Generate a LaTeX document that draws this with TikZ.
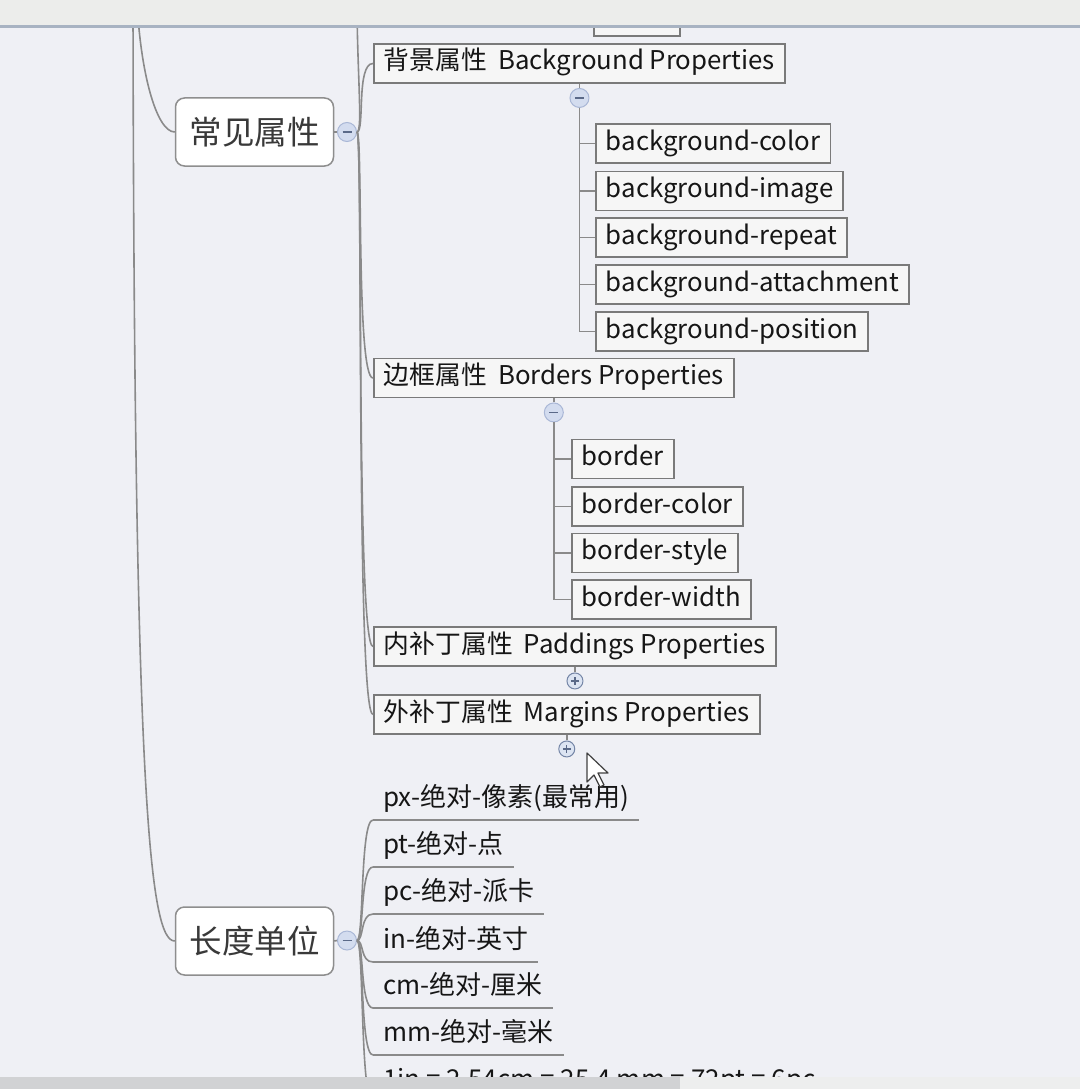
\documentclass[tikz,border=0pt]{standalone}
\usepackage{fontspec}
\setmainfont{Noto Sans CJK SC}
\newfontfamily\zhf{Noto Sans CJK SC}[Scale=1.0]
\usetikzlibrary{calc}
\definecolor{bgc}{HTML}{EFF0F5}
\definecolor{topc}{HTML}{ECEDEB}
\definecolor{toplinec}{HTML}{A8B3C2}
\definecolor{botl}{HTML}{D1D2D4}
\definecolor{botr}{HTML}{EDEEEE}
\definecolor{boxfill}{HTML}{F6F6F6}
\definecolor{boxdraw}{HTML}{7A7A7A}
\definecolor{rootdraw}{HTML}{8E8E8E}
\definecolor{linec}{HTML}{8A8A8A}
\definecolor{txt}{HTML}{161616}
\definecolor{cminfill}{HTML}{D3DCEF}
\definecolor{cmindraw}{HTML}{A9B7D6}
\definecolor{cplusfill}{HTML}{DCE4F2}
\definecolor{cplusdraw}{HTML}{7485A6}
\definecolor{signc}{HTML}{5A6988}
\begin{document}
\begin{tikzpicture}[x=1pt,y=-1pt,
  conn/.style={draw=linec,line width=1.6pt},
  rootbox/.style={draw=rootdraw,fill=white,line width=1.5pt,rounded corners=9pt,
    minimum width=158pt,minimum height=68pt,inner sep=0pt,text=txt!85,
    font=\fontsize{32.5}{36}\selectfont},
  topic/.style={draw=boxdraw,fill=boxfill,line width=1.9pt,anchor=west,
    inner xsep=10pt,inner ysep=0pt,minimum height=39pt,text height=19pt,text depth=6pt,
    text=txt,font=\fontsize{25.8}{30}\selectfont},
  unit/.style={anchor=south west,inner xsep=10pt,inner ysep=0pt,text height=19pt,
    text depth=13pt,text=txt,font=\fontsize{26}{30}\selectfont},
  cminus/.style={circle,minimum size=19pt,inner sep=0pt,fill=cminfill,draw=cmindraw,line width=1pt,
    path picture={\draw[signc,line width=1.2pt] ([xshift=-4.5pt]path picture bounding box.center) -- ([xshift=4.5pt]path picture bounding box.center);}},
  cplus/.style={circle,minimum size=16pt,inner sep=0pt,fill=cplusfill,draw=cplusdraw,line width=1pt,
    path picture={\draw[signc,line width=1.3pt] ([xshift=-4pt]path picture bounding box.center) -- ([xshift=4pt]path picture bounding box.center)
      ([yshift=-4pt]path picture bounding box.center) -- ([yshift=4pt]path picture bounding box.center);}}
]
\useasboundingbox (0,0) rectangle (1080,1089);
\clip (0,0) rectangle (1080,1089);
\fill[bgc] (0,0) rectangle (1080,1089);

% partial box at the top (cut by the bar)
\draw[draw=boxdraw,fill=boxfill,line width=1.9pt] (594,-5) rectangle (680,36);

% root-level nodes
\node[rootbox] (cj) at (254.5,132) {常见属性};
\node[rootbox] (cd) at (254.5,941) {长度单位};
\node[cminus] (cjc) at (347,132) {};
\node[cminus] (cdc) at (347,940.5) {};
\draw[conn] (cj.east) -- (cjc.west);
\draw[conn] (cd.east) -- (cdc.west);

% lines from the off-screen root
\coordinate (rtA) at (133,0);
\coordinate (rtB) at (137,0);
\draw[conn] (rtA) .. controls (134,800) and (150,941) .. (cd.west);
\draw[conn] (rtB) .. controls (140,70) and (156,132) .. (cj.west);

% children of 常见属性
\node[topic] (bgP) at (373,63.5) {{\zhf 背景属性}\hspace{11pt}Background Properties};
\node[topic] (brd) at (373,378) {{\zhf 边框属性}\hspace{11pt}Borders Properties};
\node[topic] (pad) at (373,646.5) {{\zhf 内补丁属性}\hspace{11pt}Paddings Properties};
\node[topic] (mar) at (373,714.5) {{\zhf 外补丁属性}\hspace{11pt}Margins Properties};

\coordinate (cjtop) at (357,0);
\draw[conn] (cjc.east) .. controls +(6,0) and (357,70) .. (cjtop);
\draw[conn] (cjc.east) .. controls +(8,0) and +(-17,0) .. (bgP.west);
\draw[conn] (cjc.east) .. controls +(6,0) and +(-17,0) .. (brd.west);
\draw[conn] (cjc.east) .. controls +(6,0) and +(-17,0) .. (pad.west);
\draw[conn] (cjc.east) .. controls +(6,0) and +(-17,0) .. (mar.west);

% background properties
\node[cminus] (bgc1) at ($(bgP.south)+(0,14)$) {};
\draw[conn] (bgP.south) -- (bgc1.north);
\node[topic] (bc) at (595,143.5) {background-color};
\node[topic] (bi) at (595,191) {background-image};
\node[topic] (br) at (595,237.5) {background-repeat};
\node[topic] (ba) at (595,284.5) {background-attachment};
\node[topic] (bp) at (595,331.5) {background-position};
\foreach \n in {bc,bi,br,ba,bp} \draw[conn] (bgc1.south) |- (\n.west);

% borders properties
\node[cminus] (brc1) at ($(brd.south)+(0,14)$) {};
\draw[conn] (brd.south) -- (brc1.north);
\node[topic] (b1) at (571,459) {border};
\node[topic] (b2) at (571,506.5) {border-color};
\node[topic] (b3) at (571,553) {border-style};
\node[topic] (b4) at (571,599.5) {border-width};
\foreach \n in {b1,b2,b3,b4} \draw[conn] (brc1.south) |- (\n.west);

% collapsed ones
\node[cplus] (padc) at ($(pad.south)+(0,14)$) {};
\node[cplus] (marc) at ($(mar.south)+(0,14)$) {};
\draw[conn] (pad.south) -- (padc.north);
\draw[conn] (mar.south) -- (marc.north);

% length units
\node[unit] (u1) at (373,820) {px-绝对-像素(最常用)};
\node[unit] (u2) at (373,867) {pt-绝对-点};
\node[unit] (u3) at (373,914) {pc-绝对-派卡};
\node[unit] (u4) at (373,962) {in-绝对-英寸};
\node[unit] (u5) at (373,1008) {cm-绝对-厘米};
\node[unit] (u6) at (373,1055) {mm-绝对-毫米};
\node[unit] (u7) at (373,1102) {1in = 2.54cm = 25.4 mm = 72pt = 6pc};
\foreach \n in {u1,u2,u3,u4,u5,u6,u7} {
  \draw[conn] (\n.south west) -- (\n.south east);
  \draw[conn] (cdc.east) .. controls +(7,0) and +(-13,0) .. (\n.south west);
}

% mouse cursor
\draw[fill=white,draw=black!75,line width=1.2pt,line join=round]
  (587,753) -- ++(0,29) -- ++(7,-7) -- ++(6,12) -- ++(4,-2) -- ++(-6,-12) -- ++(10,0) -- cycle;

% window bars
\fill[topc] (0,0) rectangle (1080,25);
\fill[toplinec] (0,25) rectangle (1080,28);
\fill[botl] (0,1077) rectangle (680,1089);
\fill[botr] (680,1077) rectangle (1080,1089);
\end{tikzpicture}
\end{document}
